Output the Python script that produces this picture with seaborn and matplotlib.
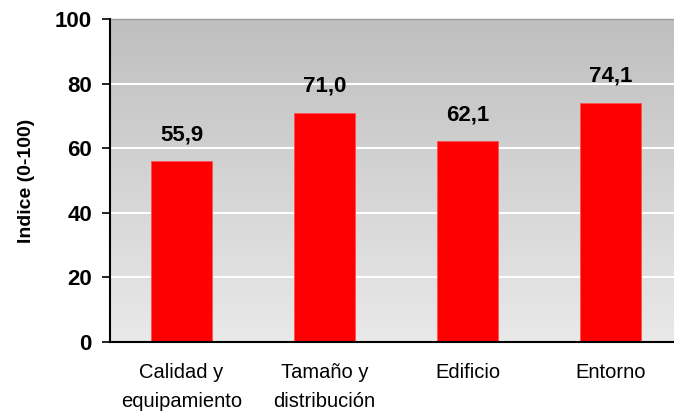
import matplotlib
matplotlib.use("Agg")
import matplotlib.pyplot as plt
import numpy as np
import seaborn as sns

categorias = ["Calidad y\nequipamiento", "Tamaño y\ndistribución", "Edificio", "Entorno"]
indices = [55.9, 71.0, 62.1, 74.1]
etiquetas = ["55,9", "71,0", "62,1", "74,1"]
yticks = [0, 20, 40, 60, 80, 100]

sns.set_style("white")
plt.rcParams["font.family"] = ["Liberation Sans", "DejaVu Sans"]
plt.rcParams["text.color"] = "black"
plt.rcParams["xtick.color"] = "black"
plt.rcParams["ytick.color"] = "black"
plt.rcParams["axes.labelcolor"] = "black"

fig = plt.figure(figsize=(6.74, 4.16), dpi=100)
ax = fig.add_axes([110 / 674, 74 / 416, 572 / 674, 323 / 416])

# gradient background of the plot area (dark at top, light at bottom)
grad = np.linspace(0, 1, 256).reshape(-1, 1)
ax.imshow(grad, cmap=matplotlib.colors.LinearSegmentedColormap.from_list(
    "bg", ["#e9e9e9", "#bfbfbf"]), aspect="auto", origin="lower",
    extent=[-0.5, 3.5, 0, 100], zorder=0)

sns.barplot(x=categorias, y=indices, color="#ff0000", width=0.42,
            edgecolor="#ff5050", linewidth=0.6, saturation=1, ax=ax, zorder=3)

for i, (v, t) in enumerate(zip(indices, etiquetas)):
    ax.annotate(t, (i, v), xytext=(0, 11.5), textcoords="offset points",
                ha="center", va="bottom", fontsize=16, fontweight="bold")

ax.set_xlim(-0.5, 3.5)
ax.set_ylim(0, 100)
ax.set_yticks(yticks)
ax.set_yticklabels([str(t) for t in yticks], fontsize=16, fontweight="bold")
for y in yticks[1:-1]:
    ax.axhline(y, color="white", linewidth=1.5, zorder=1)

ax.set_xticks(range(len(categorias)))
ax.set_xticklabels(categorias, fontsize=14.5, linespacing=1.7)
ax.set_xticks([0.5, 1.5, 2.5, 3.5], minor=True)
ax.tick_params(axis="x", which="major", length=0, pad=15)
ax.tick_params(axis="x", which="minor", direction="out", length=5, width=1.2, color="black")
ax.tick_params(axis="y", direction="out", length=6, width=1.2, color="black", pad=7, left=True)

ax.set_ylabel("Indice (0-100)", fontsize=14, fontweight="bold", labelpad=14)
ax.set_xlabel("")

for s in ["left", "bottom"]:
    ax.spines[s].set_color("black")
    ax.spines[s].set_linewidth(1.5)
    ax.spines[s].set_zorder(5)
ax.spines["top"].set_visible(True)
ax.spines["top"].set_color("#9a9a9a")
ax.spines["top"].set_linewidth(1)
ax.spines["right"].set_visible(False)

fig.savefig("out.png", dpi=100, facecolor="white")
